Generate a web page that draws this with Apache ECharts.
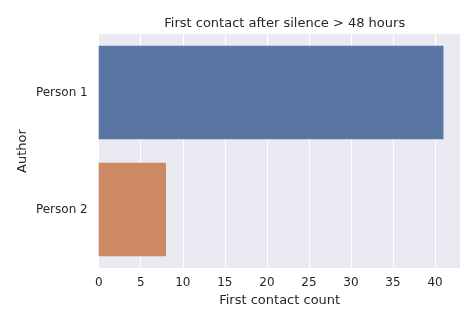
<!DOCTYPE html>
<html><head><meta charset="utf-8">
<script src="https://cdn.jsdelivr.net/npm/echarts@6/dist/echarts.min.js"></script>
<style>html,body{margin:0;padding:0;background:#fff}#c{width:473px;height:316px}</style>
</head><body><div id="c"></div>
<script>
const categories = ["Person 1", "Person 2"];
const counts = [41, 8];
const xTicks = [0, 5, 10, 15, 20, 25, 30, 35, 40];
const barColors = ["#5975a4", "#cc8963"];

const chart = echarts.init(document.getElementById('c'), null, {renderer: 'canvas'});
const font = 'DejaVu Sans';
chart.setOption({
  animation: false,
  backgroundColor: '#ffffff',
  title: {
    text: 'First contact after silence > 48 hours',
    left: 279.7, top: 12, textAlign: 'center',
    textStyle: {fontFamily: font, fontSize: 13, fontWeight: 'normal', color: '#262626'}
  },
  grid: {left: 98.7, right: 12.3, top: 34, bottom: 48, show: true, backgroundColor: '#eaeaf2', borderWidth: 0},
  xAxis: {
    type: 'value', min: 0, max: 43.05, interval: 5,
    name: 'First contact count', nameLocation: 'middle', nameGap: 25,
    nameTextStyle: {fontFamily: font, fontSize: 13, color: '#262626'},
    axisLine: {show: false}, axisTick: {show: false},
    axisLabel: {fontFamily: font, fontSize: 12, color: '#262626', margin: 9, showMaxLabel: false,
      formatter: v => xTicks.includes(v) ? String(v) : ''},
    splitLine: {show: true, lineStyle: {color: '#ffffff', width: 1}}
  },
  yAxis: {
    type: 'category', data: categories, inverse: true,
    name: 'Author', nameLocation: 'middle', nameGap: 70, nameRotate: 90, nameMoveOverlap: false,
    nameTextStyle: {fontFamily: font, fontSize: 13, color: '#262626'},
    axisLine: {show: false}, axisTick: {show: false},
    axisLabel: {fontFamily: font, fontSize: 12, color: '#262626', margin: 11},
    splitLine: {show: false}
  },
  series: [{
    type: 'bar',
    data: counts.map((v, i) => ({value: v, itemStyle: {color: barColors[i]}})),
    barCategoryGap: '20%'
  }]
});
</script></body></html>
